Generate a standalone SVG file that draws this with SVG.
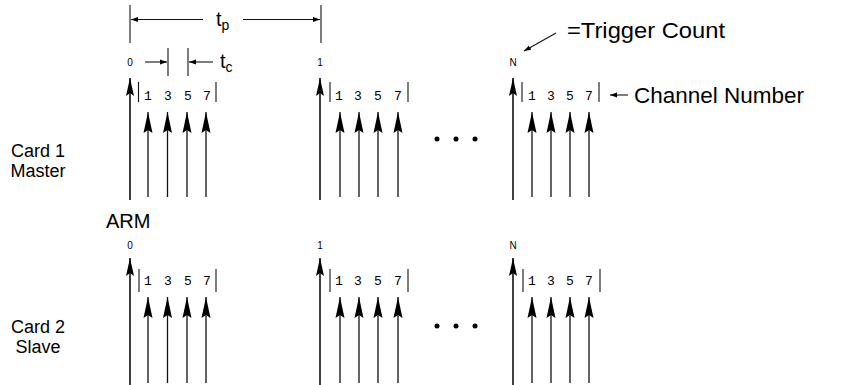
<svg xmlns="http://www.w3.org/2000/svg" width="842" height="385" viewBox="0 0 842 385">
<style>
.lbl{font-family:"Liberation Sans",Arial,sans-serif;font-size:20px;fill:#000}
.big{font-family:"Liberation Sans",Arial,sans-serif;font-size:22px;fill:#000}
.card{font-family:"Liberation Sans",Arial,sans-serif;font-size:18px;fill:#000;text-anchor:middle}
.num{font-family:"Liberation Mono","DejaVu Sans Mono",monospace;font-size:13px;fill:#000;text-anchor:middle}
.cnt{font-family:"Liberation Sans",Arial,sans-serif;font-size:10px;fill:#000;text-anchor:middle}
.ln{stroke:#111;stroke-width:1.6;fill:none}
.ch{stroke:#111;stroke-width:1.3;fill:none}
.thin{stroke:#111;stroke-width:1.1;fill:none}
</style>
<defs>
<marker id="mh" markerUnits="userSpaceOnUse" markerWidth="20" markerHeight="10" viewBox="0 -5 20 10" refX="18" refY="0" orient="auto"><path d="M0,-4 L18,0 L0,4 L3,0 Z" fill="#000"/></marker>
<marker id="ch" markerUnits="userSpaceOnUse" markerWidth="22" markerHeight="10" viewBox="0 -5 22 10" refX="21" refY="0" orient="auto"><path d="M0,-4.5 L21,0 L0,4.5 L3,0 Z" fill="#000"/></marker>
<marker id="sm" markerUnits="userSpaceOnUse" markerWidth="8" markerHeight="6" viewBox="0 -3 8 6" refX="7" refY="0" orient="auto"><path d="M0,-2.5 L7,0 L0,2.5 Z" fill="#000"/></marker>
</defs>

<g id="timing-tp">
<line class="thin" x1="130" y1="5" x2="130" y2="43"/>
<line class="thin" x1="321" y1="5" x2="321" y2="43"/>
<line class="thin" x1="203" y1="19.5" x2="131" y2="19.5" marker-end="url(#sm)"/>
<line class="thin" x1="243" y1="19.5" x2="320" y2="19.5" marker-end="url(#sm)"/>
<text class="lbl" x="216" y="26">t<tspan font-size="14" dy="4">p</tspan></text>
</g>
<g id="timing-tc">
<line class="thin" x1="168" y1="48" x2="168" y2="76"/>
<line class="thin" x1="188" y1="48" x2="188" y2="76"/>
<line class="thin" x1="145" y1="62" x2="167" y2="62" marker-end="url(#sm)"/>
<line class="thin" x1="213" y1="62" x2="189" y2="62" marker-end="url(#sm)"/>
<text class="lbl" x="220" y="68">t<tspan font-size="14" dy="4">c</tspan></text>
</g>

<g id="card1-label"><text class="card" x="38" y="157">Card 1</text><text class="card" x="38" y="177">Master</text></g>
<g id="card2-label"><text class="card" x="38" y="333">Card 2</text><text class="card" x="38" y="353">Slave</text></g>
<g id="arm-label"><text class="lbl" x="106" y="228">ARM</text></g>

<g id="trigger-count"><text class="big" x="567" y="38" textLength="158" lengthAdjust="spacingAndGlyphs">=Trigger Count</text></g>
<g id="channel-number"><text class="big" x="634" y="103" textLength="170" lengthAdjust="spacingAndGlyphs">Channel Number</text></g>

<g id="connectors">
<line class="thin" x1="556" y1="33" x2="524" y2="51" marker-end="url(#sm)"/>
<line class="thin" x1="628" y1="95" x2="610" y2="95" marker-end="url(#sm)"/>
</g>

<!-- Card 1 bursts -->
<g id="c1-burst0">
<text class="cnt" x="130" y="66">0</text>
<line class="ln" x1="130" y1="200" x2="130" y2="78" marker-end="url(#mh)"/>
<line class="thin" x1="138.5" y1="82" x2="138.5" y2="102"/><line class="thin" x1="216" y1="82" x2="216" y2="102"/>
<text class="num" x="148" y="100">1</text><text class="num" x="168" y="100">3</text><text class="num" x="188" y="100">5</text><text class="num" x="207" y="100">7</text>
<line class="ch" x1="148" y1="197" x2="148" y2="112" marker-end="url(#ch)"/>
<line class="ch" x1="167.5" y1="197" x2="167.5" y2="112" marker-end="url(#ch)"/>
<line class="ch" x1="187" y1="197" x2="187" y2="112" marker-end="url(#ch)"/>
<line class="ch" x1="206" y1="197" x2="206" y2="112" marker-end="url(#ch)"/>
</g>
<g id="c1-burst1">
<text class="cnt" x="320" y="66">1</text>
<line class="ln" x1="320" y1="200" x2="320" y2="78" marker-end="url(#mh)"/>
<line class="thin" x1="330" y1="82" x2="330" y2="102"/><line class="thin" x1="408" y1="82" x2="408" y2="102"/>
<text class="num" x="339" y="100">1</text><text class="num" x="358" y="100">3</text><text class="num" x="378" y="100">5</text><text class="num" x="398" y="100">7</text>
<line class="ch" x1="340" y1="197" x2="340" y2="112" marker-end="url(#ch)"/>
<line class="ch" x1="359" y1="197" x2="359" y2="112" marker-end="url(#ch)"/>
<line class="ch" x1="378" y1="197" x2="378" y2="112" marker-end="url(#ch)"/>
<line class="ch" x1="398" y1="197" x2="398" y2="112" marker-end="url(#ch)"/>
</g>
<g id="c1-dots"><circle cx="437" cy="139" r="2.5"/><circle cx="456" cy="139" r="2.5"/><circle cx="475" cy="139" r="2.5"/></g>
<g id="c1-burstN">
<text class="cnt" x="513" y="66">N</text>
<line class="ln" x1="513" y1="200" x2="513" y2="78" marker-end="url(#mh)"/>
<line class="thin" x1="522" y1="82" x2="522" y2="102"/><line class="thin" x1="599" y1="82" x2="599" y2="102"/>
<text class="num" x="532" y="100">1</text><text class="num" x="551" y="100">3</text><text class="num" x="570" y="100">5</text><text class="num" x="589" y="100">7</text>
<line class="ch" x1="532" y1="197" x2="532" y2="112" marker-end="url(#ch)"/>
<line class="ch" x1="551" y1="197" x2="551" y2="112" marker-end="url(#ch)"/>
<line class="ch" x1="570" y1="197" x2="570" y2="112" marker-end="url(#ch)"/>
<line class="ch" x1="589" y1="197" x2="589" y2="112" marker-end="url(#ch)"/>
</g>

<!-- Card 2 bursts -->
<g id="c2-burst0">
<text class="cnt" x="130" y="249">0</text>
<line class="ln" x1="130" y1="385" x2="130" y2="258" marker-end="url(#mh)"/>
<line class="thin" x1="139" y1="269" x2="139" y2="292"/><line class="thin" x1="216" y1="269" x2="216" y2="292"/>
<text class="num" x="148" y="285">1</text><text class="num" x="168" y="285">3</text><text class="num" x="188" y="285">5</text><text class="num" x="207" y="285">7</text>
<line class="ch" x1="148" y1="383" x2="148" y2="297" marker-end="url(#ch)"/>
<line class="ch" x1="167.5" y1="383" x2="167.5" y2="297" marker-end="url(#ch)"/>
<line class="ch" x1="187" y1="383" x2="187" y2="297" marker-end="url(#ch)"/>
<line class="ch" x1="206" y1="383" x2="206" y2="297" marker-end="url(#ch)"/>
</g>
<g id="c2-burst1">
<text class="cnt" x="320" y="249">1</text>
<line class="ln" x1="320" y1="385" x2="320" y2="258" marker-end="url(#mh)"/>
<line class="thin" x1="330" y1="269" x2="330" y2="292"/><line class="thin" x1="408" y1="269" x2="408" y2="292"/>
<text class="num" x="339" y="285">1</text><text class="num" x="358" y="285">3</text><text class="num" x="378" y="285">5</text><text class="num" x="398" y="285">7</text>
<line class="ch" x1="340" y1="383" x2="340" y2="297" marker-end="url(#ch)"/>
<line class="ch" x1="359" y1="383" x2="359" y2="297" marker-end="url(#ch)"/>
<line class="ch" x1="378" y1="383" x2="378" y2="297" marker-end="url(#ch)"/>
<line class="ch" x1="398" y1="383" x2="398" y2="297" marker-end="url(#ch)"/>
</g>
<g id="c2-dots"><circle cx="437" cy="326" r="2.5"/><circle cx="456" cy="326" r="2.5"/><circle cx="475" cy="326" r="2.5"/></g>
<g id="c2-burstN">
<text class="cnt" x="513" y="249">N</text>
<line class="ln" x1="513" y1="385" x2="513" y2="258" marker-end="url(#mh)"/>
<line class="thin" x1="523" y1="269" x2="523" y2="292"/><line class="thin" x1="600" y1="269" x2="600" y2="292"/>
<text class="num" x="532" y="285">1</text><text class="num" x="551" y="285">3</text><text class="num" x="570" y="285">5</text><text class="num" x="589" y="285">7</text>
<line class="ch" x1="532" y1="383" x2="532" y2="297" marker-end="url(#ch)"/>
<line class="ch" x1="551" y1="383" x2="551" y2="297" marker-end="url(#ch)"/>
<line class="ch" x1="570" y1="383" x2="570" y2="297" marker-end="url(#ch)"/>
<line class="ch" x1="589" y1="383" x2="589" y2="297" marker-end="url(#ch)"/>
</g>
</svg>
